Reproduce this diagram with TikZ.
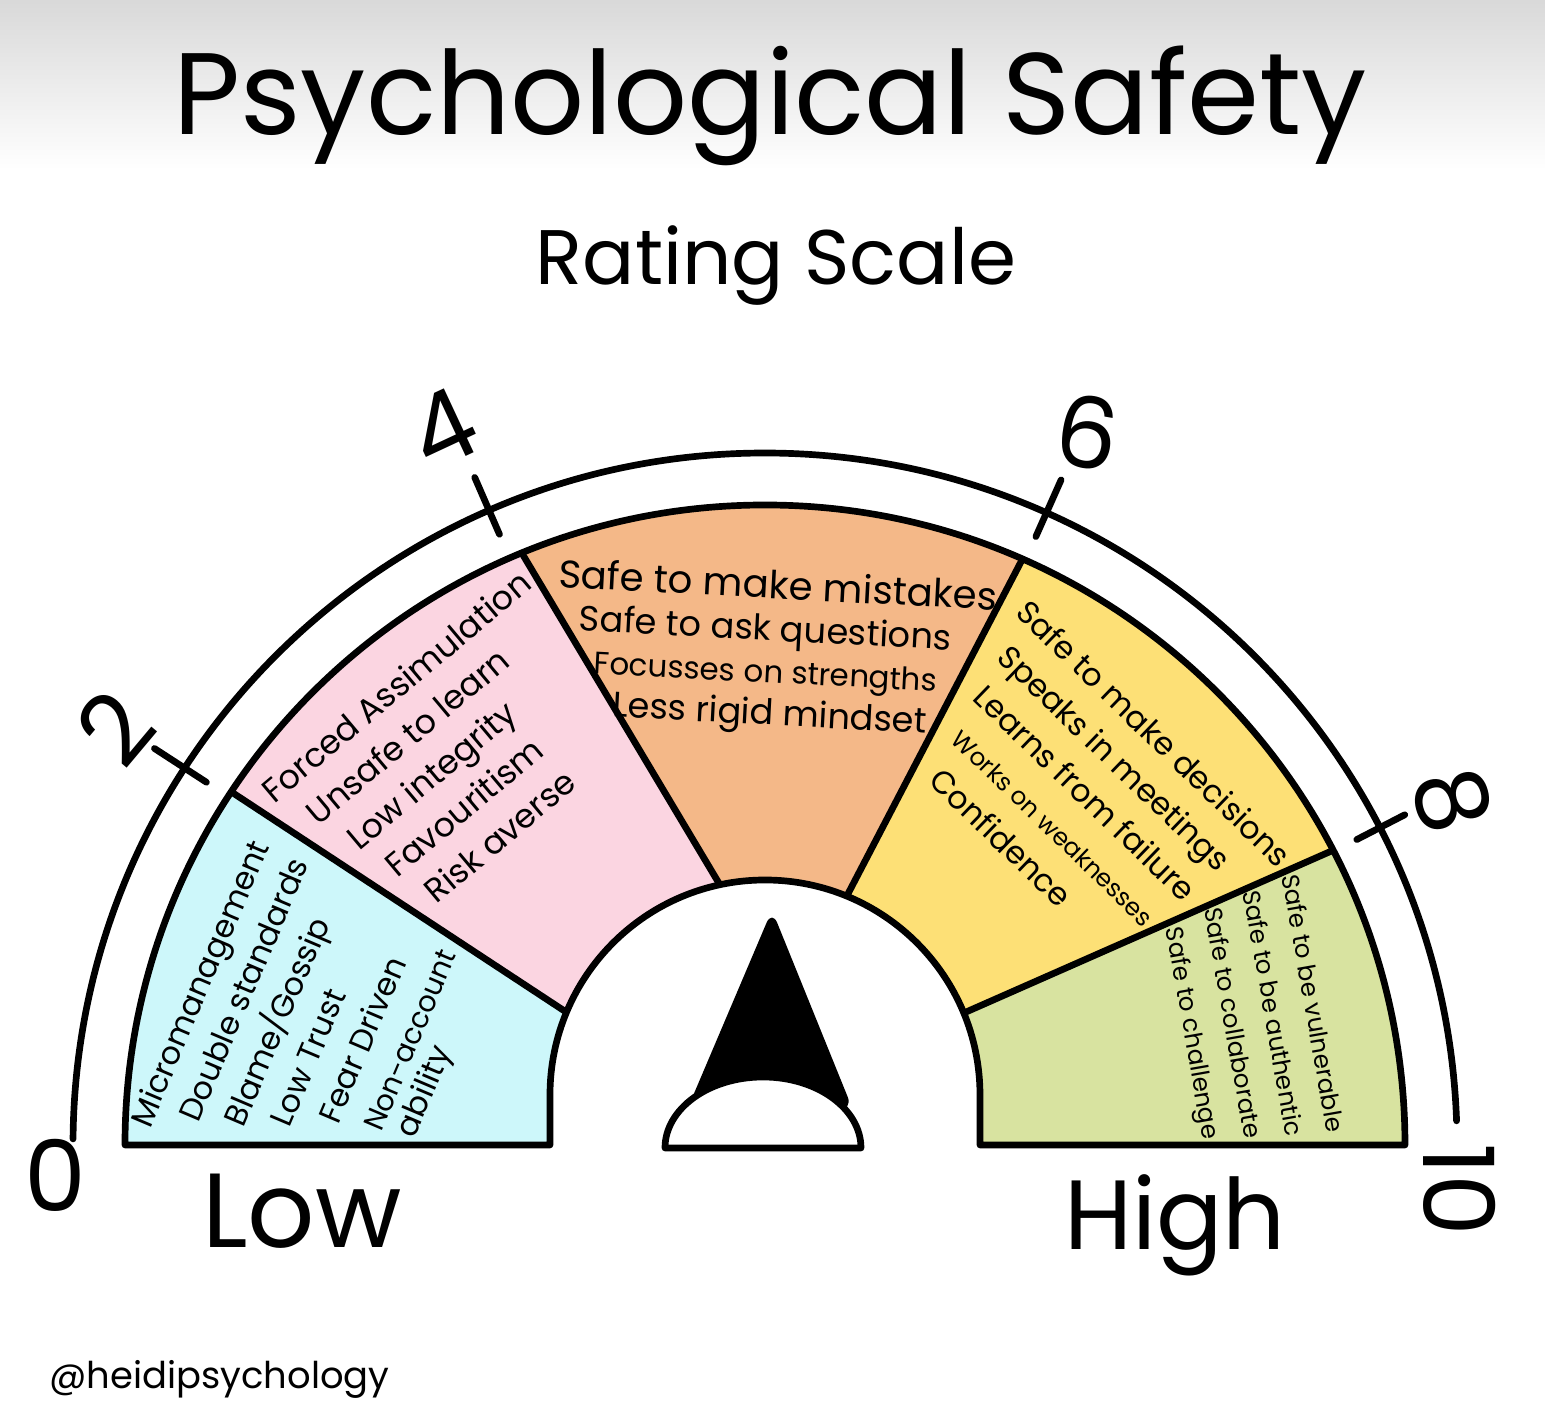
\documentclass[tikz,border=0pt]{standalone}
\usepackage{fontspec}
\setmainfont{Poppins}
\definecolor{lowcyan}{HTML}{CDF7FA}
\definecolor{lowpink}{HTML}{FBD5E1}
\definecolor{midorange}{HTML}{F4B888}
\definecolor{highyellow}{HTML}{FDE076}
\definecolor{highgreen}{HTML}{D8E3A0}
\begin{document}
\begin{tikzpicture}[x=0.1mm, y=0.1mm,
  band/.style={insert path={(-640,0) arc[start angle=180, end angle=0, radius=640]
      -- (215,0) -- (215,50) arc[start angle=0, end angle=180, radius=215] -- (-215,0) -- cycle}},
  rim/.style={line width=1.9pt, line cap=round, line join=round},
  zonetext/.style={align=left, inner sep=0pt, anchor=north west},
  digit/.style={font=\fontsize{28}{30}\selectfont, inner sep=0pt}]
  \useasboundingbox (-765,-260) rectangle (780,1145);
  \shade[top color=black!15, bottom color=white] (-765,975) rectangle (780,1145);

  % titles
  \node[anchor=base, font=\fontsize{33}{38}\selectfont] (title) at (5,1010) {Psychological Safety};
  \node[anchor=base, font=\fontsize{22}{26}\selectfont] (subtitle) at (11,860) {Rating Scale};

  % coloured zones
  \begin{scope}
    \clip (-152,102) -- (-582,385) -- (-800,385) -- (-800,-5) -- (-100,-5) -- cycle;
    \fill[lowcyan, band];
  \end{scope}
  \begin{scope}
    \clip (-152,102) -- (-582,385) -- (-272,640) -- (-15,210) -- cycle;
    \fill[lowpink, band];
  \end{scope}
  \begin{scope}
    \clip (-15,210) -- (-272,640) -- (0,760) -- (284,637) -- (59,205) -- cycle;
    \fill[midorange, band];
  \end{scope}
  \begin{scope}
    \clip (59,205) -- (284,637) -- (560,560) -- (614,315) -- (165,117) -- cycle;
    \fill[highyellow, band];
  \end{scope}
  \begin{scope}
    \clip (165,117) -- (614,315) -- (800,315) -- (800,-5) -- (100,-5) -- cycle;
    \fill[highgreen, band];
  \end{scope}
  \begin{scope}
    \clip[band];
    \draw[rim, shorten <=-20, shorten >=-20] (-532,352) -- (-202,135);
    \draw[rim, shorten <=-20, shorten >=-20] (-242,590) -- (-45,260);
    \draw[rim, shorten <=-20, shorten >=-20] (258,587) -- (85,255);
    \draw[rim, shorten <=-20, shorten >=-20] (562,292) -- (217,140);
  \end{scope}
  \draw[rim, band];

  % outer scale with ticks
  \draw[rim] (179.5:692) arc[start angle=179.5, end angle=2, radius=692];
  \draw[rim] (147:666) -- (147:728);
  \draw[rim] (113.5:666) -- (113.5:728);
  \draw[rim] (66:666) -- (66:728);
  \draw[rim] (27.3:666) -- (27.3:720);
  \node[digit] (n0) at (-710,-30) {0};
  \node[digit, rotate=50] (n2) at (-650,417) {2};
  \node[digit, rotate=25] (n4) at (-322,716) {4};
  \node[digit, rotate=-10] (n6) at (323,713) {6};
  \node[digit, rotate=-75] (n8) at (687,345) {8};
  \node[digit, rotate=-90] (n10) at (695,-45) {10};

  % zone texts
  \node[zonetext, rotate=67, font=\fontsize{9}{12.2}\selectfont] (lowtext) at (-638,25)
    {Micromanagement\\\hspace*{2.4mm}Double standards\\\hspace*{3.7mm}Blame/Gossip\\
     \hspace*{5.5mm}Low Trust\\\hspace*{7.7mm}Fear Driven\\
     \hspace*{8.7mm}{\fontsize{8.2}{12.2}\selectfont Non-account}\\[-2.8pt]
     \hspace*{9.4mm}ability};
  \node[zonetext, rotate=40, font=\fontsize{9.5}{12.9}\selectfont] (unsafetext) at (-508,360)
    {Forced Assimulation\\\hspace*{2mm}Unsafe to learn\\\hspace*{3.5mm}Low integrity\\
     \hspace*{4.7mm}Favouritism\\\hspace*{6mm}Risk averse};
  \node[zonetext, rotate=-3, font=\fontsize{10}{12}\selectfont] (midtext) at (-206,588)
    {{\fontsize{11}{12}\selectfont Safe to make mistakes}\\\hspace*{2.3mm}Safe to ask questions\\
     \hspace*{4mm}{\fontsize{8.8}{12}\selectfont Focusses on strengths}\\\hspace*{6.1mm}Less rigid mindset};
  \node[zonetext, rotate=-44, font=\fontsize{9}{12.9}\selectfont] (safetext) at (266,549)
    {Safe to make decisions\\\hspace*{1.8mm}Speaks in meetings\\\hspace*{2.8mm}Learns from failure\\
     \hspace*{4.2mm}{\fontsize{7}{12.9}\selectfont Works on weaknesses}\\\hspace*{5.4mm}Confidence};
  \node[zonetext, rotate=-80, font=\fontsize{7}{11.7}\selectfont] (hightext) at (536,273)
    {Safe to be vulnerable\\\hspace*{0.9mm}Safe to be authentic\\
     \hspace*{1.9mm}Safe to collaborate\\\hspace*{3.2mm}Safe to challenge};

  % needle
  \fill[rounded corners=4pt] (7,235) -- (-78,35) -- (88,35) -- cycle;
  \draw[rim, fill=white] (-100,-3) arc[start angle=180, end angle=0, x radius=98, y radius=71] -- cycle;

  % low / high
  \node[anchor=base, font=\fontsize{30}{34}\selectfont] (low) at (-463,-103) {Low};
  \node[anchor=base, font=\fontsize{28}{32}\selectfont] (high) at (410,-105) {High};
  \node[anchor=base west, font=\fontsize{10.5}{12}\selectfont] (handle) at (-728,-244) {@heidipsychology};
\end{tikzpicture}
\end{document}
